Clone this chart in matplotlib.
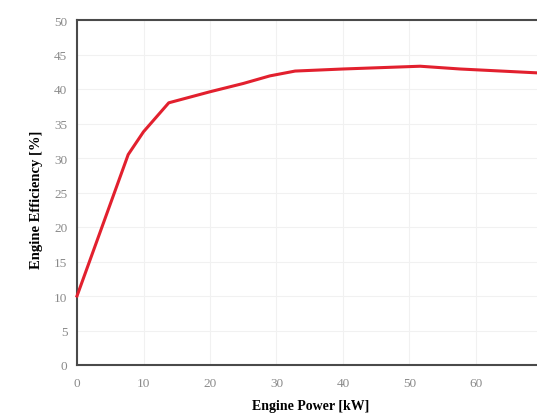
import matplotlib
matplotlib.use("Agg")
import matplotlib.pyplot as plt

# engine power [kW] vs engine efficiency [%]
power = [0, 7.7, 10, 13.8, 20, 25, 29, 32.8, 40, 51.6, 57.6, 70]
efficiency = [10, 30.5, 33.8, 38, 39.6, 40.8, 41.9, 42.6, 42.9, 43.3, 42.9, 42.3]

x_ticks = [0, 10, 20, 30, 40, 50, 60, 70]
y_ticks = [0, 5, 10, 15, 20, 25, 30, 35, 40, 45, 50]

plt.rcParams['font.family'] = ['Liberation Serif', 'DejaVu Serif']

fig = plt.figure(figsize=(5.37, 4.14), dpi=100)
# axes runs past the right edge of the picture, like the cropped original
ax = fig.add_axes([77/537, 48/414, 532/537, 345/414])

ax.plot(power, efficiency, color='#e2202e', lw=2.2, clip_on=False, zorder=3)

ax.set_xlim(0, 80)
ax.set_ylim(0, 50)
ax.set_xticks(x_ticks)
ax.set_yticks(y_ticks)
ax.tick_params(length=0, labelsize=9.5, labelcolor='#8a8a8a', pad=7)
ax.tick_params(axis='x', pad=9)
ax.grid(True, color='#f1f1f1', lw=0.8)
ax.set_axisbelow(True)

for side in ['left', 'bottom', 'top']:
    ax.spines[side].set_color('#4a4a4a')
    ax.spines[side].set_linewidth(1.5)
ax.spines['right'].set_visible(False)

ax.set_xlabel('Engine Power [kW]', fontsize=10, fontweight='bold')
ax.set_ylabel('Engine Efficiency [%]', fontsize=10.5, fontweight='bold')
ax.xaxis.set_label_coords((311 - 77) / 532, -0.1)
ax.yaxis.set_label_coords(-(77 - 43) / 532, (366 - 200) / 345)

fig.savefig('out.png', dpi=100)
